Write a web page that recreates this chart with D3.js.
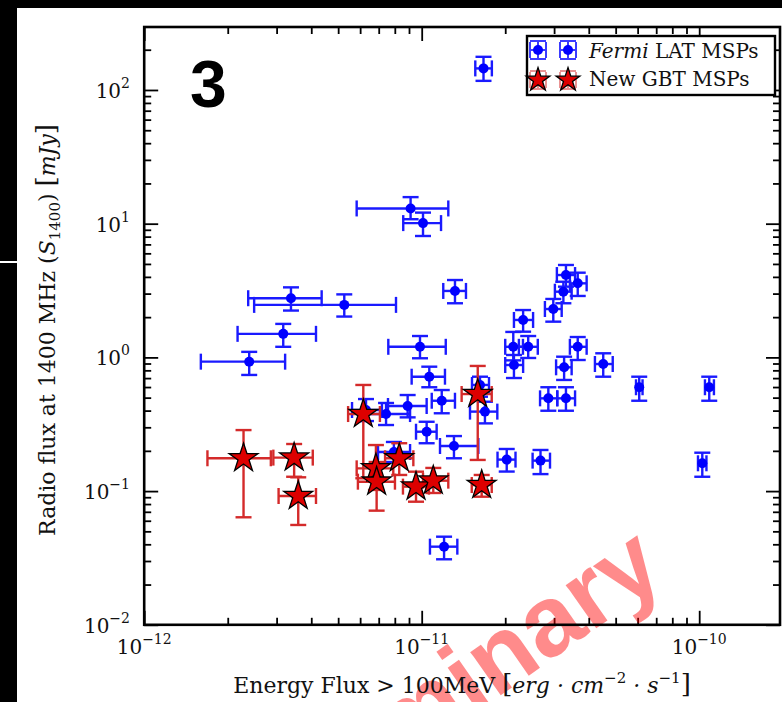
<!DOCTYPE html>
<html>
<head>
<meta charset="utf-8">
<script src="https://cdn.jsdelivr.net/npm/d3@7"></script>
<style>
  html, body { margin: 0; padding: 0; background: #fff; }
  svg { display: block; }
</style>
</head>
<body>
<svg id="chart" width="782" height="702"></svg>
<script>
// Fermi LAT MSPs: gamma-ray energy flux (>100 MeV, erg cm^-2 s^-1) and 1400 MHz radio flux (mJy)
const fermiEflux   = [1.67e-11, 9.12e-12, 1.011e-11, 1.318e-11, 3.38e-12, 5.26e-12, 3.17e-12, 2.39e-12, 9.86e-12, 1.065e-11,
                      8.9e-12, 1.181e-11, 7.44e-12, 6.30e-12, 1.042e-11, 1.307e-11, 2.025e-11, 2.68e-11, 1.204e-11, 2.32e-11,
                      2.138e-11, 2.42e-11, 2.15e-11, 2.98e-11, 3.24e-11, 3.31e-11, 3.65e-11, 3.65e-11, 3.26e-11, 4.51e-11,
                      6.08e-11, 1.087e-10, 1.026e-10, 2.86e-11, 3.31e-11, 1.69e-11, 1.622e-11, 7.94e-12];
const fermiEfluxLo = [1.56e-11, 5.83e-12, 8.58e-12, 1.196e-11, 2.37e-12, 2.49e-12, 2.17e-12, 1.60e-12, 7.58e-12, 9.2e-12,
                      7.56e-12, 1.087e-11, 6.09e-12, 5.61e-12, 9.54e-12, 1.164e-11, 1.876e-11, 2.51e-11, 1.071e-11, 2.15e-11,
                      2.0e-11, 2.24e-11, 2.0e-11, 2.78e-11, 3.02e-11, 3.07e-11, 3.42e-11, 3.42e-11, 3.05e-11, 4.21e-11,
                      5.92e-11, 1.049e-10, 9.90e-11, 2.67e-11, 3.08e-11, 1.493e-11, 1.518e-11, 6.96e-12];
const fermiEfluxHi = [1.79e-11, 1.247e-11, 1.174e-11, 1.444e-11, 4.36e-12, 8.08e-12, 4.16e-12, 3.22e-12, 1.221e-11, 1.213e-11,
                      1.042e-11, 1.318e-11, 9.08e-12, 7.19e-12, 1.132e-11, 1.60e-11, 2.178e-11, 2.90e-11, 1.344e-11, 2.52e-11,
                      2.317e-11, 2.62e-11, 2.32e-11, 3.195e-11, 3.47e-11, 3.57e-11, 3.93e-11, 3.93e-11, 3.47e-11, 4.88e-11,
                      6.25e-11, 1.13e-10, 1.062e-10, 3.08e-11, 3.57e-11, 1.873e-11, 1.748e-11, 9.08e-12];
const fermiS1400   = [145, 13.0, 10.1, 3.14, 2.77, 2.47, 1.50, 0.929, 1.20, 0.717,
                      0.433, 0.474, 0.377, 0.404, 0.278, 0.2175, 0.172, 0.169, 0.0384, 1.905,
                      1.20, 1.20, 0.877, 2.30, 3.10, 4.13, 3.58, 1.20, 0.843, 0.892,
                      0.598, 0.598, 0.1614, 0.494, 0.494, 0.393, 0.622, 0.196];
const fermiS1400Lo = [117, 10.8, 8.09, 2.54, 2.24, 2.02, 1.20, 0.739, 0.985, 0.598,
                      0.356, 0.382, 0.312, 0.334, 0.228, 0.176, 0.140, 0.134, 0.0309, 1.557,
                      0.95, 0.99, 0.701, 1.85, 2.54, 3.38, 2.88, 0.956, 0.678, 0.717,
                      0.474, 0.474, 0.128, 0.399, 0.399, 0.321, 0.508, 0.165];
const fermiS1400Hi = [177, 15.8, 12.1, 3.79, 3.34, 2.96, 1.78, 1.10, 1.445, 0.852,
                      0.523, 0.570, 0.456, 0.488, 0.330, 0.258, 0.2065, 0.203, 0.0456, 2.26,
                      1.55, 1.445, 1.042, 2.735, 3.68, 4.91, 4.30, 1.42, 1.012, 1.073,
                      0.717, 0.717, 0.1937, 0.598, 0.598, 0.466, 0.717, 0.233];

// New GBT MSPs
const gbtEflux   = [2.28e-12, 3.47e-12, 3.59e-12, 6.16e-12, 6.84e-12, 6.88e-12, 8.30e-12, 9.54e-12, 1.101e-11, 1.592e-11, 1.645e-11];
const gbtEfluxLo = [1.69e-12, 2.92e-12, 3.05e-12, 5.43e-12, 5.83e-12, 5.89e-12, 7.38e-12, 8.56e-12, 1.011e-11, 1.393e-11, 1.515e-11];
const gbtEfluxHi = [2.86e-12, 4.05e-12, 4.16e-12, 7.07e-12, 7.90e-12, 8.01e-12, 9.33e-12, 1.062e-11, 1.247e-11, 1.788e-11, 1.788e-11];
const gbtS1400   = [0.176, 0.178, 0.0919, 0.377, 0.148, 0.1176, 0.176, 0.108, 0.1197, 0.532, 0.111];
const gbtS1400Lo = [0.0637, 0.128, 0.0558, 0.1247, 0.102, 0.0714, 0.132, 0.0833, 0.0968, 0.171, 0.0908];
const gbtS1400Hi = [0.286, 0.225, 0.1268, 0.622, 0.221, 0.165, 0.228, 0.1397, 0.149, 0.863, 0.132];

// Axis ticks
const xMajorTicks = [1e-12, 1e-11, 1e-10];
const xTickExps   = ["\u221212", "\u221211", "\u221210"];
const yMajorTicks = [1e-2, 1e-1, 1e0, 1e1, 1e2];
const yTickExps   = ["\u22122", "\u22121", "0", "1", "2"];

const legendLabels = [["Fermi", " LAT MSPs"], ["", "New GBT MSPs"]];

const fermi = fermiEflux.map((v, i) => ({
  x: v, xlo: fermiEfluxLo[i], xhi: fermiEfluxHi[i],
  y: fermiS1400[i], ylo: fermiS1400Lo[i], yhi: fermiS1400Hi[i]
}));
const gbt = gbtEflux.map((v, i) => ({
  x: v, xlo: gbtEfluxLo[i], xhi: gbtEfluxHi[i],
  y: gbtS1400[i], ylo: gbtS1400Lo[i], yhi: gbtS1400Hi[i]
}));

const svg = d3.select("#chart");
const box = { left: 144.2, right: 780, top: 27, bottom: 624.8 };
const serif = "'DejaVu Serif', 'Liberation Serif', serif";

const x = d3.scaleLog().domain([1e-12, Math.pow(10, -9.7088)]).range([box.left, box.right]);
const y = d3.scaleLog().domain([1e-2, Math.pow(10, 2.471)]).range([box.bottom, box.top]);

// minor tick values (2..9 within each decade)
function minors(scale) {
  const [a, b] = scale.domain();
  const out = [];
  for (let e = Math.floor(Math.log10(a)); e <= Math.ceil(Math.log10(b)); e++) {
    for (let k = 2; k <= 9; k++) {
      const v = k * Math.pow(10, e);
      if (v > a && v < b) out.push(v);
    }
  }
  return out;
}

svg.append("rect").attr("width", 782).attr("height", 702).attr("fill", "#fff");

// ---- axes (ticks point inward on all four sides) ----
function styleAxis(g) {
  g.select(".domain").remove();
  g.selectAll(".tick line").attr("stroke", "#000").attr("stroke-width", 1.8);
  g.selectAll(".tick text").remove();
}
const axes = svg.append("g");
[[d3.axisBottom, `translate(0,${box.bottom})`, x], [d3.axisTop, `translate(0,${box.top})`, x],
 [d3.axisLeft, `translate(${box.left},0)`, y], [d3.axisRight, `translate(${box.right},0)`, y]]
  .forEach(([gen, tr, sc]) => {
    const majors = sc === x ? xMajorTicks : yMajorTicks;
    axes.append("g").attr("transform", tr)
      .call(gen(sc).tickValues(majors).tickSize(-14).tickFormat(""))
      .call(styleAxis);
    axes.append("g").attr("transform", tr)
      .call(gen(sc).tickValues(minors(sc)).tickSize(-7).tickFormat(""))
      .call(styleAxis);
  });

// ---- watermark (behind the axis titles) ----
svg.append("text").attr("transform", "translate(668,578) rotate(-35)").attr("text-anchor", "end")
  .attr("font-family", "'Liberation Sans', Arial, sans-serif").attr("font-weight", "bold")
  .attr("font-size", 100).attr("fill", "#ff0000").attr("opacity", 0.45).text("Preliminary");

// tick labels: 10 with superscript exponent
const xt = svg.append("g").attr("font-family", serif).attr("fill", "#111");
xMajorTicks.forEach((v, i) => {
  const t = xt.append("text").attr("x", x(v)).attr("y", 654).attr("text-anchor", "middle").attr("font-size", 20);
  t.append("tspan").text("10");
  t.append("tspan").attr("dy", -10).attr("font-size", 14).text(xTickExps[i]);
});
yMajorTicks.forEach((v, i) => {
  const t = xt.append("text").attr("x", 130).attr("y", y(v) + 8).attr("text-anchor", "end").attr("font-size", 20);
  t.append("tspan").text("10");
  t.append("tspan").attr("dy", -10).attr("font-size", 14).text(yTickExps[i]);
});

// axis titles
const xl = svg.append("text").attr("x", 462).attr("y", 693).attr("text-anchor", "middle")
  .attr("font-family", serif).attr("font-size", 22).attr("fill", "#111");
xl.append("tspan").text("Energy Flux > 100MeV ");
xl.append("tspan").attr("font-size", 26).text("[");
xl.append("tspan").attr("font-style", "italic").text("erg \u00b7 cm");
xl.append("tspan").attr("dy", -10).attr("font-size", 15).text("\u22122");
xl.append("tspan").attr("dy", 10).attr("font-style", "italic").text(" \u00b7 s");
xl.append("tspan").attr("dy", -10).attr("font-size", 15).text("\u22121");
xl.append("tspan").attr("dy", 10).attr("font-size", 26).text("]");

const yl = svg.append("text").attr("transform", "translate(55,330) rotate(-90)").attr("text-anchor", "middle")
  .attr("font-family", serif).attr("font-size", 22).attr("fill", "#111");
yl.append("tspan").text("Radio flux at 1400 MHz  (");
yl.append("tspan").attr("font-style", "italic").text("S");
yl.append("tspan").attr("dy", 5).attr("font-size", 15).text("1400");
yl.append("tspan").attr("dy", -5).text(") ");
yl.append("tspan").attr("font-size", 26).text("[");
yl.append("tspan").attr("font-style", "italic").text("mJy");
yl.append("tspan").attr("font-size", 26).text("]");

// ---- error bars ----
const CAP = 8;
function errorBars(g, data, color) {
  const e = g.selectAll("g.eb").data(data).join("g").attr("class", "eb")
    .attr("stroke", color).attr("stroke-width", 2.4).attr("fill", "none");
  e.append("line").attr("x1", d => x(d.xlo)).attr("x2", d => x(d.xhi)).attr("y1", d => y(d.y)).attr("y2", d => y(d.y));
  e.append("line").attr("x1", d => x(d.x)).attr("x2", d => x(d.x)).attr("y1", d => y(d.ylo)).attr("y2", d => y(d.yhi));
  ["xlo", "xhi"].forEach(k => e.append("line").attr("x1", d => x(d[k])).attr("x2", d => x(d[k]))
    .attr("y1", d => y(d.y) - CAP).attr("y2", d => y(d.y) + CAP));
  ["ylo", "yhi"].forEach(k => e.append("line").attr("y1", d => y(d[k])).attr("y2", d => y(d[k]))
    .attr("x1", d => x(d.x) - CAP).attr("x2", d => x(d.x) + CAP));
}

const plot = svg.append("g");
const gF = plot.append("g");
errorBars(gF, fermi, "#1a1aff");
gF.selectAll("circle").data(fermi).join("circle")
  .attr("cx", d => x(d.x)).attr("cy", d => y(d.y)).attr("r", 5).attr("fill", "#0000ff");

const star = d3.symbol(d3.symbolStar);
const gG = plot.append("g");
errorBars(gG, gbt, "#d42a2a");
gG.selectAll("path.star").data(gbt).join("path").attr("class", "star")
  .attr("transform", d => `translate(${x(d.x)},${y(d.y)})`)
  .attr("d", star.size(260)).attr("fill", "#dd0000").attr("stroke", "#000").attr("stroke-width", 1.3);

// ---- frame ----
svg.append("rect").attr("x", box.left).attr("y", box.top)
  .attr("width", box.right - box.left).attr("height", box.bottom - box.top)
  .attr("fill", "none").attr("stroke", "#000").attr("stroke-width", 2.6);

// ---- legend ----
const lg = svg.append("g");
lg.append("rect").attr("x", 527).attr("y", 36).attr("width", 248).attr("height", 59)
  .attr("fill", "#fff").attr("stroke", "#000").attr("stroke-width", 2.4);
function legendMark(cx, cy, color, isStar) {
  const g = lg.append("g").attr("stroke", color).attr("stroke-width", 2).attr("fill", "none")
    .attr("opacity", isStar ? 0.5 : 0.85);
  g.append("line").attr("x1", cx - 8).attr("x2", cx + 8).attr("y1", cy).attr("y2", cy);
  g.append("line").attr("x1", cx).attr("x2", cx).attr("y1", cy - 9).attr("y2", cy + 9);
  [-8, 8].forEach(o => g.append("line").attr("x1", cx + o).attr("x2", cx + o).attr("y1", cy - 8).attr("y2", cy + 8));
  [-9, 9].forEach(o => g.append("line").attr("y1", cy + o).attr("y2", cy + o).attr("x1", cx - 8).attr("x2", cx + 8));
  if (isStar) {
    lg.append("path").attr("transform", `translate(${cx},${cy})`).attr("d", star.size(175))
      .attr("fill", "#dd0000").attr("stroke", "#000").attr("stroke-width", 1.3);
  } else {
    lg.append("circle").attr("cx", cx).attr("cy", cy).attr("r", 5).attr("fill", "#0000ff");
  }
}
[538, 568].forEach(cx => { legendMark(cx, 50, "#1a1aff", false); legendMark(cx, 80, "#d42a2a", true); });
legendLabels.forEach((lab, i) => {
  const t = lg.append("text").attr("x", 589).attr("y", 58 + i * 28)
    .attr("font-family", serif).attr("font-size", 20).attr("fill", "#111");
  if (lab[0]) t.append("tspan").attr("font-style", "italic").text(lab[0]);
  t.append("tspan").text(lab[1]);
});

// ---- panel number ----
svg.append("text").attr("x", 190).attr("y", 107).attr("font-family", "'Liberation Sans', Arial, sans-serif")
  .attr("font-weight", "bold").attr("font-size", 66).attr("fill", "#000").text("3");

// ---- slide edges ----
svg.append("rect").attr("x", 0).attr("y", 0).attr("width", 782).attr("height", 8).attr("fill", "#000");
svg.append("rect").attr("x", 0).attr("y", 0).attr("width", 17).attr("height", 702).attr("fill", "#000");
svg.append("rect").attr("x", 0).attr("y", 261).attr("width", 17).attr("height", 2).attr("fill", "#fff");
</script>
</body>
</html>
